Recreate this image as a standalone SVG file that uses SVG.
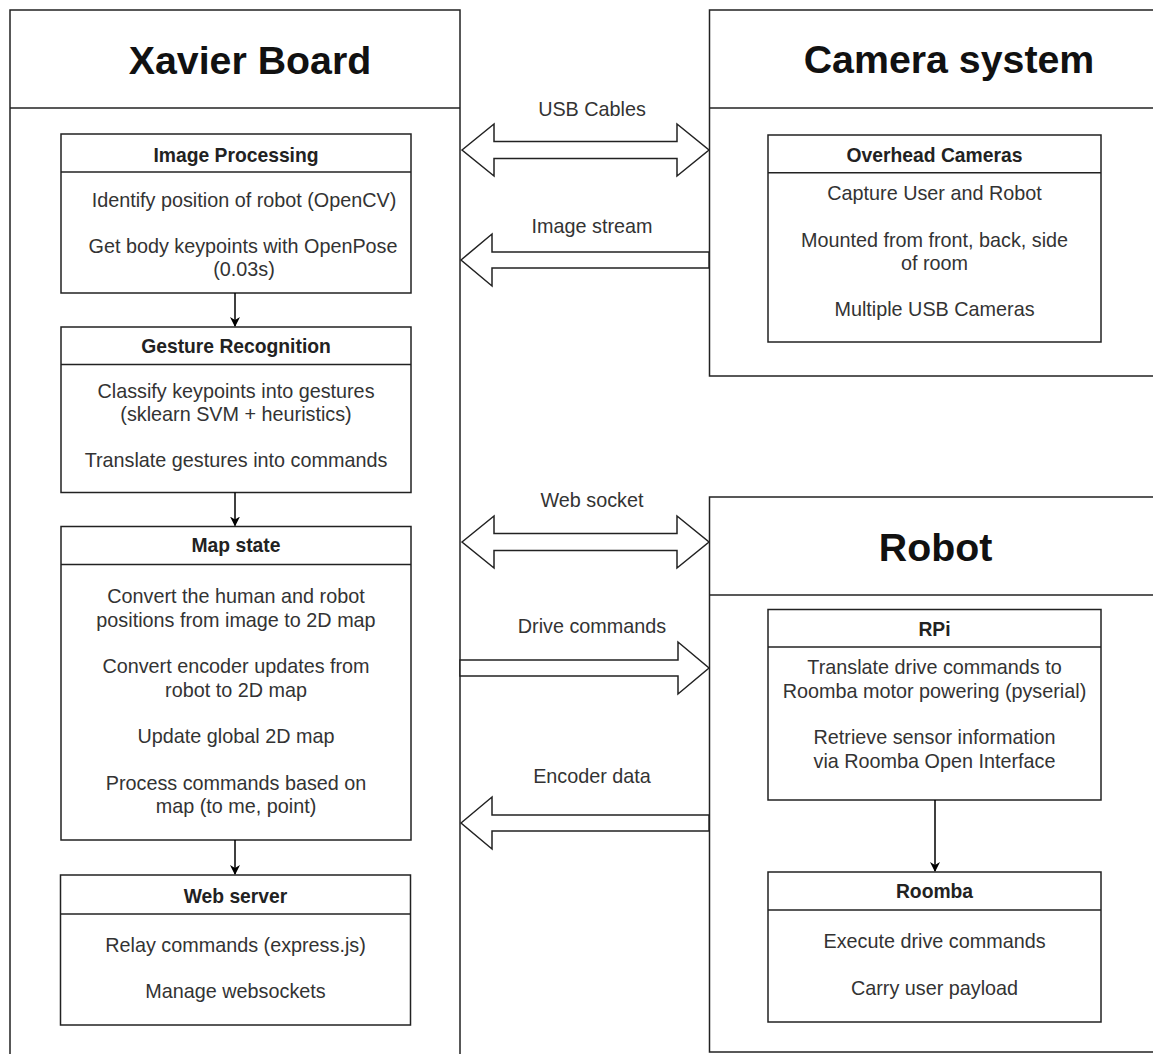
<svg xmlns="http://www.w3.org/2000/svg" width="1153" height="1054" viewBox="0 0 1153 1054">
<defs>
<style>
.frame{fill:#fff;stroke:#222;stroke-width:1.5}
.box{fill:#fff;stroke:#222;stroke-width:1.5}
.div{stroke:#222;stroke-width:1.5}
.title{font-family:"Liberation Sans",Arial,sans-serif;font-weight:bold;font-size:39.3px;fill:#111;text-anchor:middle}
.hdr{font-family:"Liberation Sans",Arial,sans-serif;font-weight:bold;font-size:19.3px;fill:#222;text-anchor:middle}
.body{font-family:"Liberation Sans",Arial,sans-serif;font-size:19.8px;fill:#333;text-anchor:middle}
.lbl{font-family:"Liberation Sans",Arial,sans-serif;font-size:19.8px;fill:#333;text-anchor:middle}
.block{fill:#fff;stroke:#222;stroke-width:1.5;stroke-linejoin:miter}
.conn{stroke:#000;stroke-width:1.5;fill:none}
</style>
<marker id="ah" viewBox="0 0 10 10" refX="9" refY="5" markerWidth="10" markerHeight="10" markerUnits="userSpaceOnUse" orient="auto">
<path d="M0,0 L10,5 L0,10 L3,5 Z" fill="#000"/>
</marker>
</defs>

<g id="xavier-board">
<rect class="frame" x="10" y="10" width="450" height="1060"/>
<line class="div" x1="10" y1="108" x2="460" y2="108"/>
<text class="title" x="250" y="74">Xavier Board</text>
</g>

<g id="camera-system">
<rect class="frame" x="709.5" y="10" width="460" height="366"/>
<line class="div" x1="709.5" y1="108" x2="1160" y2="108"/>
<text class="title" x="949" y="73">Camera system</text>
</g>

<g id="robot">
<rect class="frame" x="709.5" y="497" width="460" height="555"/>
<line class="div" x1="709.5" y1="595" x2="1160" y2="595"/>
<text class="title" x="935.5" y="561">Robot</text>
</g>

<g id="image-processing">
<rect class="box" x="61" y="134" width="350" height="159"/>
<line class="div" x1="61" y1="172" x2="411" y2="172"/>
<text class="hdr" x="236" y="161.7">Image Processing</text>
<text class="body" x="244" y="207.3">Identify position of robot (OpenCV)</text>
<text class="body" x="243" y="253.3">Get body keypoints with OpenPose</text>
<text class="body" x="244" y="276.3">(0.03s)</text>
</g>

<g id="gesture-recognition">
<rect class="box" x="61" y="327" width="350" height="165.5"/>
<line class="div" x1="61" y1="364.5" x2="411" y2="364.5"/>
<text class="hdr" x="236" y="353.3">Gesture Recognition</text>
<text class="body" x="236" y="398.3">Classify keypoints into gestures</text>
<text class="body" x="236" y="421.3">(sklearn SVM + heuristics)</text>
<text class="body" x="236" y="467">Translate gestures into commands</text>
</g>

<g id="map-state">
<rect class="box" x="61" y="526.5" width="350" height="313.5"/>
<line class="div" x1="61" y1="564.5" x2="411" y2="564.5"/>
<text class="hdr" x="236" y="551.7">Map state</text>
<text class="body" x="236" y="603.3">Convert the human and robot</text>
<text class="body" x="236" y="626.6">positions from image to 2D map</text>
<text class="body" x="236" y="673.3">Convert encoder updates from</text>
<text class="body" x="236" y="696.6">robot to 2D map</text>
<text class="body" x="236" y="743.3">Update global 2D map</text>
<text class="body" x="236" y="790">Process commands based on</text>
<text class="body" x="236" y="813.3">map (to me, point)</text>
</g>

<g id="web-server">
<rect class="box" x="60.5" y="875" width="350" height="150"/>
<line class="div" x1="60.5" y1="914" x2="410.5" y2="914"/>
<text class="hdr" x="235.5" y="902.5">Web server</text>
<text class="body" x="235.5" y="951.7">Relay commands (express.js)</text>
<text class="body" x="235.5" y="997.7">Manage websockets</text>
</g>

<g id="overhead-cameras">
<rect class="box" x="768" y="135" width="333" height="207"/>
<line class="div" x1="768" y1="172.7" x2="1101" y2="172.7"/>
<text class="hdr" x="934.5" y="161.7">Overhead Cameras</text>
<text class="body" x="934.5" y="200">Capture User and Robot</text>
<text class="body" x="934.5" y="246.7">Mounted from front, back, side</text>
<text class="body" x="934.5" y="270">of room</text>
<text class="body" x="934.5" y="315.7">Multiple USB Cameras</text>
</g>

<g id="rpi">
<rect class="box" x="768" y="609.5" width="333" height="190.5"/>
<line class="div" x1="768" y1="647" x2="1101" y2="647"/>
<text class="hdr" x="934.5" y="636">RPi</text>
<text class="body" x="934.5" y="674.3">Translate drive commands to</text>
<text class="body" x="934.5" y="697.6">Roomba motor powering (pyserial)</text>
<text class="body" x="934.5" y="744.3">Retrieve sensor information</text>
<text class="body" x="934.5" y="767.6">via Roomba Open Interface</text>
</g>

<g id="roomba">
<rect class="box" x="768" y="872" width="333" height="150"/>
<line class="div" x1="768" y1="910" x2="1101" y2="910"/>
<text class="hdr" x="934.5" y="898.3">Roomba</text>
<text class="body" x="934.5" y="948.3">Execute drive commands</text>
<text class="body" x="934.5" y="995">Carry user payload</text>
</g>

<g id="connectors">
<line class="conn" x1="235" y1="293" x2="235" y2="326" marker-end="url(#ah)"/>
<line class="conn" x1="235" y1="492.5" x2="235" y2="525.5" marker-end="url(#ah)"/>
<line class="conn" x1="235" y1="840" x2="235" y2="874" marker-end="url(#ah)"/>
<line class="conn" x1="935" y1="800" x2="935" y2="871" marker-end="url(#ah)"/>

<path class="block" d="M462,150 L494,124 L494,141.5 L677,141.5 L677,124 L709,150 L677,176 L677,158.5 L494,158.5 L494,176 Z"/>
<text class="lbl" x="592" y="116">USB Cables</text>

<path class="block" d="M461,260 L492,234 L492,252 L709,252 L709,268 L492,268 L492,286 Z"/>
<text class="lbl" x="592" y="233.3">Image stream</text>

<path class="block" d="M462,542 L494,516 L494,533.5 L677,533.5 L677,516 L709,542 L677,568 L677,550.5 L494,550.5 L494,568 Z"/>
<text class="lbl" x="592" y="507.3">Web socket</text>

<path class="block" d="M460,660 L678,660 L678,642 L709,668 L678,694 L678,676 L460,676 Z"/>
<text class="lbl" x="592" y="633.3">Drive commands</text>

<path class="block" d="M461,823 L492,797 L492,815 L709,815 L709,831 L492,831 L492,849 Z"/>
<text class="lbl" x="592" y="783.3">Encoder data</text>
</g>
</svg>
